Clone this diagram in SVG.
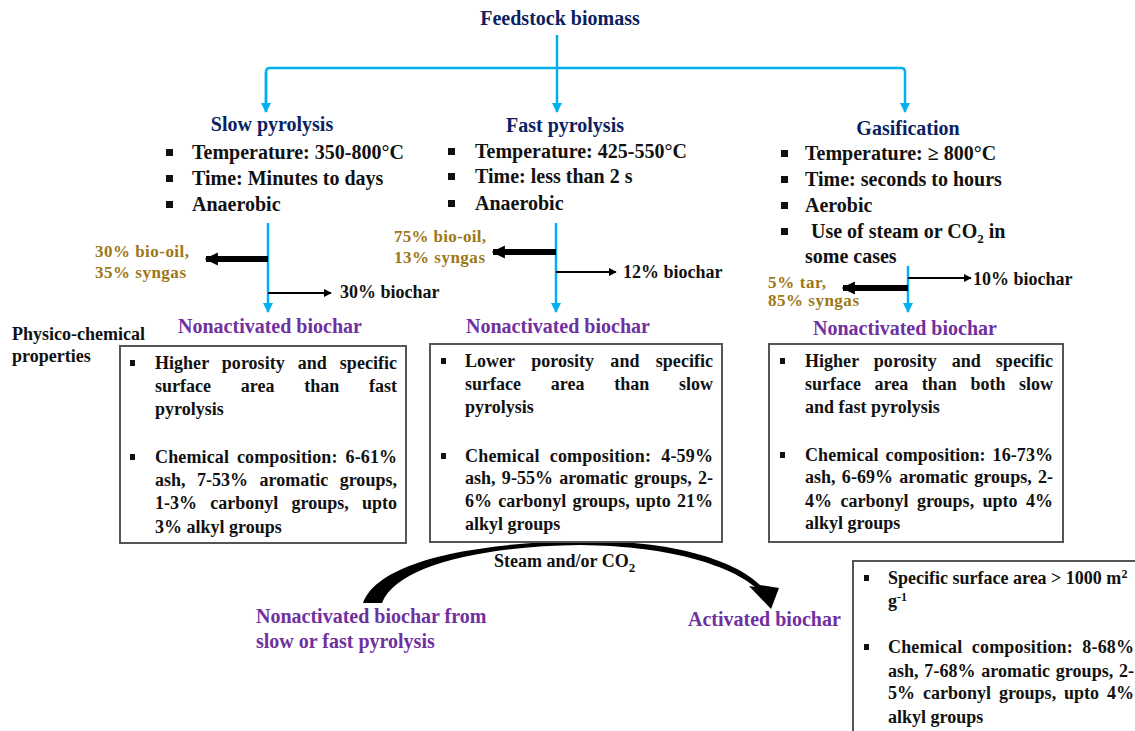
<svg xmlns="http://www.w3.org/2000/svg" width="1135" height="731" viewBox="0 0 1135 731">
<defs>
<style>
text{font-family:"Liberation Serif","Times New Roman",serif;font-weight:bold;}
.navy{fill:#0c1f63;font-size:20px;}
.bul{fill:#111;font-size:20px;}
.purple{fill:#7030a0;font-size:20px;}
.gold{fill:#9c7716;font-size:17px;}
.lbl{fill:#111;font-size:18px;}
.box{fill:#fff;stroke:#555;stroke-width:2;}
.bt{fill:#111;font-size:18px;}
.blue{stroke:#00b0f0;stroke-width:2.5;fill:none;}
.thin{stroke:#000;stroke-width:2;fill:none;}
.thick{stroke:#000;stroke-width:6;fill:none;}
</style>
<marker id="ab" viewBox="0 0 10 10" refX="9" refY="5" markerWidth="4" markerHeight="4" orient="auto" markerUnits="strokeWidth"><path d="M0,0 L10,5 L0,10 z" fill="#00b0f0"/></marker>
<marker id="at" viewBox="0 0 10 10" refX="9" refY="5" markerWidth="4" markerHeight="4" orient="auto" markerUnits="strokeWidth"><path d="M0,0 L10,5 L0,10 z" fill="#000"/></marker>
<marker id="ak" viewBox="0 0 10 10" refX="9" refY="5" markerWidth="2.2" markerHeight="2.5" orient="auto" markerUnits="strokeWidth"><path d="M0,0 L10,5 L0,10 z" fill="#000"/></marker>
</defs>
<rect width="1135" height="731" fill="#fff"/>

<g id="connectors">
<path class="blue" d="M557,35 L557,112" marker-end="url(#ab)"/>
<path class="blue" d="M266,112 L266,72 Q266,68 270,68 L901,68 Q905,68 905,72 L905,112" marker-end="url(#ab)"/>
<path class="blue" d="M266,72 L266,112" marker-end="url(#ab)"/>
<path class="blue" d="M268,223 L268,312" marker-end="url(#ab)"/>
<path class="blue" d="M556,223 L556,312" marker-end="url(#ab)"/>
<path class="blue" d="M908,266 L908,312" marker-end="url(#ab)"/>
<path class="thick" d="M268,259 L206,259" marker-end="url(#ak)"/>
<path class="thin" d="M268,293 L331,293" marker-end="url(#at)"/>
<path class="thick" d="M556,252 L493,252" marker-end="url(#ak)"/>
<path class="thin" d="M556,272 L616,272" marker-end="url(#at)"/>
<path class="thin" d="M908,278 L971,278" marker-end="url(#at)"/>
<path class="thick" d="M908,288 L843,288" marker-end="url(#ak)"/>
<path d="M363,603 C378,562 470,543 580,541 C680,540 738,563 760,585 L779,588 L771,609 L749,586 L755,587 C733,568 676,546 580,545 C482,546 396,566 382,603 Z" fill="#000"/>
</g>

<g id="title"><text class="navy" x="560" y="25" text-anchor="middle">Feedstock biomass</text></g>

<g id="slow">
<text class="navy" x="272" y="131" text-anchor="middle">Slow pyrolysis</text>
<rect x="166" y="149" width="7" height="7" fill="#111"/>
<rect x="166" y="175" width="7" height="7" fill="#111"/>
<rect x="166" y="201" width="7" height="7" fill="#111"/>
<text class="bul" x="192" y="159">Temperature: 350-800°C</text>
<text class="bul" x="192" y="185">Time: Minutes to days</text>
<text class="bul" x="192" y="211">Anaerobic</text>
<text class="gold" x="95" y="257" textLength="94" lengthAdjust="spacing">30% bio-oil,</text>
<text class="gold" x="95" y="278" textLength="91" lengthAdjust="spacing">35% syngas</text>
<text class="lbl" x="340" y="298">30% biochar</text>
</g>

<g id="fast">
<text class="navy" x="565" y="132" text-anchor="middle">Fast pyrolysis</text>
<rect x="448" y="148" width="7" height="7" fill="#111"/>
<rect x="448" y="173" width="7" height="7" fill="#111"/>
<rect x="448" y="200" width="7" height="7" fill="#111"/>
<text class="bul" x="475" y="158">Temperature: 425-550°C</text>
<text class="bul" x="475" y="183">Time: less than 2 s</text>
<text class="bul" x="475" y="210">Anaerobic</text>
<text class="gold" x="394" y="242" textLength="92" lengthAdjust="spacing">75% bio-oil,</text>
<text class="gold" x="394" y="263" textLength="91" lengthAdjust="spacing">13% syngas</text>
<text class="lbl" x="623" y="278">12% biochar</text>
</g>

<g id="gasification">
<text class="navy" x="908" y="135" text-anchor="middle">Gasification</text>
<rect x="781" y="150" width="7" height="7" fill="#111"/>
<rect x="781" y="176" width="7" height="7" fill="#111"/>
<rect x="781" y="202" width="7" height="7" fill="#111"/>
<rect x="781" y="228" width="7" height="7" fill="#111"/>
<text class="bul" x="805" y="160">Temperature: ≥ 800°C</text>
<text class="bul" x="805" y="186">Time: seconds to hours</text>
<text class="bul" x="805" y="212">Aerobic</text>
<text class="bul" x="811" y="238">Use of steam or CO<tspan dy="5" font-size="13">2</tspan><tspan dy="-5"> in</tspan></text>
<text class="bul" x="805" y="263">some cases</text>
<text class="lbl" x="973" y="285">10% biochar</text>
<text class="gold" x="768" y="288" textLength="58" lengthAdjust="spacing">5% tar,</text>
<text class="gold" x="768" y="306" textLength="91" lengthAdjust="spacing">85% syngas</text>
</g>

<g id="physico"><text class="lbl" x="12" y="340">Physico-chemical</text><text class="lbl" x="12" y="362">properties</text></g>

<g id="slow-biochar">
<text class="purple" x="270" y="333" text-anchor="middle">Nonactivated biochar</text>
<rect class="box" x="120" y="346" width="286" height="197"/>
<rect x="130" y="360" width="5" height="6" fill="#111"/>
<rect x="130" y="454" width="5" height="6" fill="#111"/>
<text class="bt" x="155" y="369" word-spacing="8.5" textLength="242" lengthAdjust="spacing">Higher porosity and specific</text>
<text class="bt" x="155" y="392" word-spacing="25.2" textLength="242" lengthAdjust="spacing">surface area than fast</text>
<text class="bt" x="155" y="415">pyrolysis</text>
<text class="bt" x="155" y="463" word-spacing="3.3" textLength="242" lengthAdjust="spacing">Chemical composition: 6-61%</text>
<text class="bt" x="155" y="486" word-spacing="6.8" textLength="242" lengthAdjust="spacing">ash, 7-53% aromatic groups,</text>
<text class="bt" x="155" y="509" word-spacing="8.7" textLength="242" lengthAdjust="spacing">1-3% carbonyl groups, upto</text>
<text class="bt" x="155" y="533">3% alkyl groups</text>
</g>

<g id="fast-biochar">
<text class="purple" x="558" y="333" text-anchor="middle">Nonactivated biochar</text>
<rect class="box" x="430" y="344" width="292" height="198"/>
<rect x="441" y="358" width="5" height="6" fill="#111"/>
<rect x="441" y="453" width="5" height="6" fill="#111"/>
<text class="bt" x="465" y="367" word-spacing="11.8" textLength="248" lengthAdjust="spacing">Lower porosity and specific</text>
<text class="bt" x="465" y="390" word-spacing="25.2" textLength="248" lengthAdjust="spacing">surface area than slow</text>
<text class="bt" x="465" y="413">pyrolysis</text>
<text class="bt" x="465" y="462" word-spacing="5.3" textLength="248" lengthAdjust="spacing">Chemical composition: 4-59%</text>
<text class="bt" x="465" y="484" word-spacing="1.7" textLength="248" lengthAdjust="spacing">ash, 9-55% aromatic groups, 2-</text>
<text class="bt" x="465" y="507" word-spacing="1.6" textLength="248" lengthAdjust="spacing">6% carbonyl groups, upto 21%</text>
<text class="bt" x="465" y="530">alkyl groups</text>
</g>

<g id="gas-biochar">
<text class="purple" x="905" y="335" text-anchor="middle">Nonactivated biochar</text>
<rect class="box" x="769" y="344" width="294" height="198"/>
<rect x="780" y="358" width="5" height="6" fill="#111"/>
<rect x="780" y="452" width="5" height="6" fill="#111"/>
<text class="bt" x="805" y="367" word-spacing="10.5" textLength="248" lengthAdjust="spacing">Higher porosity and specific</text>
<text class="bt" x="805" y="390" word-spacing="9" textLength="248" lengthAdjust="spacing">surface area than both slow</text>
<text class="bt" x="805" y="413">and fast pyrolysis</text>
<text class="bt" x="805" y="461" word-spacing="2.3" textLength="248" lengthAdjust="spacing">Chemical composition: 16-73%</text>
<text class="bt" x="805" y="483" word-spacing="1.7" textLength="248" lengthAdjust="spacing">ash, 6-69% aromatic groups, 2-</text>
<text class="bt" x="805" y="507" word-spacing="3.9" textLength="248" lengthAdjust="spacing">4% carbonyl groups, upto 4%</text>
<text class="bt" x="805" y="529">alkyl groups</text>
</g>

<g id="activation">
<text class="lbl" x="494" y="567" font-size="19">Steam and/or CO<tspan dy="5" font-size="13">2</tspan></text>
<text class="purple" x="256" y="623">Nonactivated biochar from</text>
<text class="purple" x="256" y="648">slow or fast pyrolysis</text>
</g>

<g id="activated-biochar">
<text class="purple" x="688" y="626">Activated biochar</text>
<rect class="box" x="853" y="561" width="300" height="200"/>
<rect x="864" y="575" width="5" height="6" fill="#111"/>
<rect x="864" y="644" width="5" height="6" fill="#111"/>
<text class="bt" x="888" y="584">Specific surface area &gt; 1000 m<tspan dy="-6" font-size="12">2</tspan></text>
<text class="bt" x="888" y="607">g<tspan dy="-6" font-size="12">-1</tspan></text>
<text class="bt" x="888" y="653" word-spacing="4.7" textLength="246" lengthAdjust="spacing">Chemical composition: 8-68%</text>
<text class="bt" x="888" y="677" word-spacing="1.2" textLength="246" lengthAdjust="spacing">ash, 7-68% aromatic groups, 2-</text>
<text class="bt" x="888" y="699" word-spacing="3.4" textLength="246" lengthAdjust="spacing">5% carbonyl groups, upto 4%</text>
<text class="bt" x="888" y="723">alkyl groups</text>
</g>
</svg>
